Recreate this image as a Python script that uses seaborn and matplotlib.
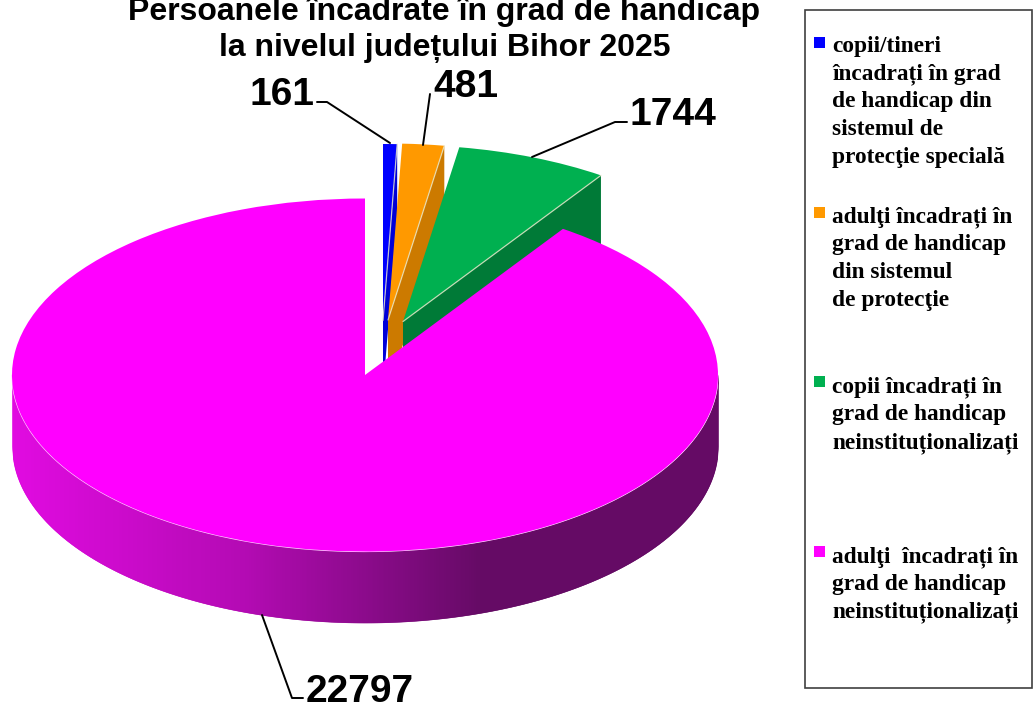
import numpy as np
import matplotlib
matplotlib.use("Agg")
import matplotlib.pyplot as plt
from matplotlib.patches import Rectangle
import seaborn as sns

title_lines = ["Persoanele încadrate în grad de handicap", "la nivelul județului Bihor 2025"]
categories = [
    "copii/tineri\nîncadrați în grad\nde handicap din\nsistemul de\nprotecţie specială",
    "adulţi încadrați în\ngrad de handicap\ndin sistemul\nde protecţie",
    "copii încadrați în\ngrad de handicap\nneinstituționalizați",
    "adulţi  încadrați în\ngrad de handicap\nneinstituționalizați",
]
values = [161, 481, 1744, 22797]
colors = ["#0000FF", "#FF9900", "#00B050", "#FF00FF"]
side_colors = ["#0000D8", "#CC7A00", "#007A37"]

# layout, in pixels of the 1035x704 picture
W, H = 1035, 704
R = 353
DEPTH = 71
centers = [(383, 320.5), (388, 320), (403, 321.5), (365, 375)]
label_pos = [(249, 105), (433, 97), (630, 125), (306, 702)]
leaders = [
    [(317, 102), (327, 102), (390, 143)],
    [(430, 94), (423, 145)],
    [(627, 122), (615, 122), (532, 157)],
    [(262, 615), (292, 698), (303, 698)],
]
legend_y = [[52, 79, 107, 135, 163], [222, 250, 278, 306], [392, 420, 448], [562, 590, 617]]
marker_y = [37, 207, 376, 546]


def py(y):
    # the axes run y twice as long as x, which squashes the pie to an ellipse
    return (H - y) * 2


sns.set_theme(style="white")
fig = plt.figure(figsize=(W / 100, H / 100), dpi=100)
ax = fig.add_axes([0, 0, 1, 1])

wedges, _ = ax.pie(values, colors=colors, startangle=90, counterclock=False,
                   radius=R, center=(365, py(375)))
ax.set_aspect("auto")
ax.set_xlim(0, W)
ax.set_ylim(0, H * 2)
ax.axis("off")

# back to front: small slices first, the big one covers their feet
for i, w in enumerate(wedges):
    cx, cy = centers[i][0], py(centers[i][1])
    w.set_center((cx, cy))
    w.set_linewidth(0)
    w.set_zorder(2 * i + 2)
    if i < 3:
        a = np.radians(w.theta1)
        rim = (cx + R * np.cos(a), cy + R * np.sin(a))
        d = DEPTH * 2
        ax.fill([cx, rim[0], rim[0], cx], [cy, rim[1], rim[1] - d, cy - d],
                color=side_colors[i], lw=0, zorder=2 * i + 1)
        ax.plot([cx, rim[0]], [cy, rim[1]], color="#E6E6C8", lw=0.9, alpha=0.8, zorder=2 * i + 2.5)

# outer wall of the big slice, shaded left to right
cx, cy = centers[3][0], py(centers[3][1])
edges = np.arange(cx - R, cx + R + 1)
shades = sns.blend_palette(["#E000E0", "#B000B0", "#5E005E"], 470)
top = cy - np.sqrt(np.maximum(R ** 2 - (edges - cx) ** 2, 0))
for j in range(len(edges) - 1):
    c = shades[min(j, len(shades) - 1)]
    ax.fill_between(edges[j:j + 2], top[j:j + 2], top[j:j + 2] - DEPTH * 2,
                    color=c, lw=0.4, zorder=7)
ax.plot(edges, top, color="#FFD0FF", lw=0.9, zorder=8.5)
wedges[3].set_zorder(9)

for val, (x, y), pts in zip(values, label_pos, leaders):
    ax.text(x, py(y), str(val), fontsize=28, fontweight="bold", family="Liberation Sans",
            ha="left", va="baseline", color="black", zorder=12)
    ax.plot([p[0] for p in pts], [py(p[1]) for p in pts], color="black", lw=1.4, zorder=11)

for line, y in zip(title_lines, [20, 56]):
    ax.text(444.5, py(y), line, fontsize=23, fontweight="bold", family="Liberation Sans",
            ha="center", va="baseline", color="black", zorder=12)

# legend box
ax.add_patch(Rectangle((805, py(688)), 227, 678 * 2, facecolor="white", edgecolor="#404040", lw=1.2, zorder=1))
for cat, col, ys, my in zip(categories, colors, legend_y, marker_y):
    ax.add_patch(Rectangle((814, py(my + 11)), 10.5, 22, facecolor=col, edgecolor="none", zorder=3))
    for line, y in zip(cat.split("\n"), ys):
        ax.text(832, py(y), line, fontsize=16.8, fontweight="bold", family="Liberation Serif",
                ha="left", va="baseline", color="black", zorder=3)

fig.savefig("out.png", dpi=100)
